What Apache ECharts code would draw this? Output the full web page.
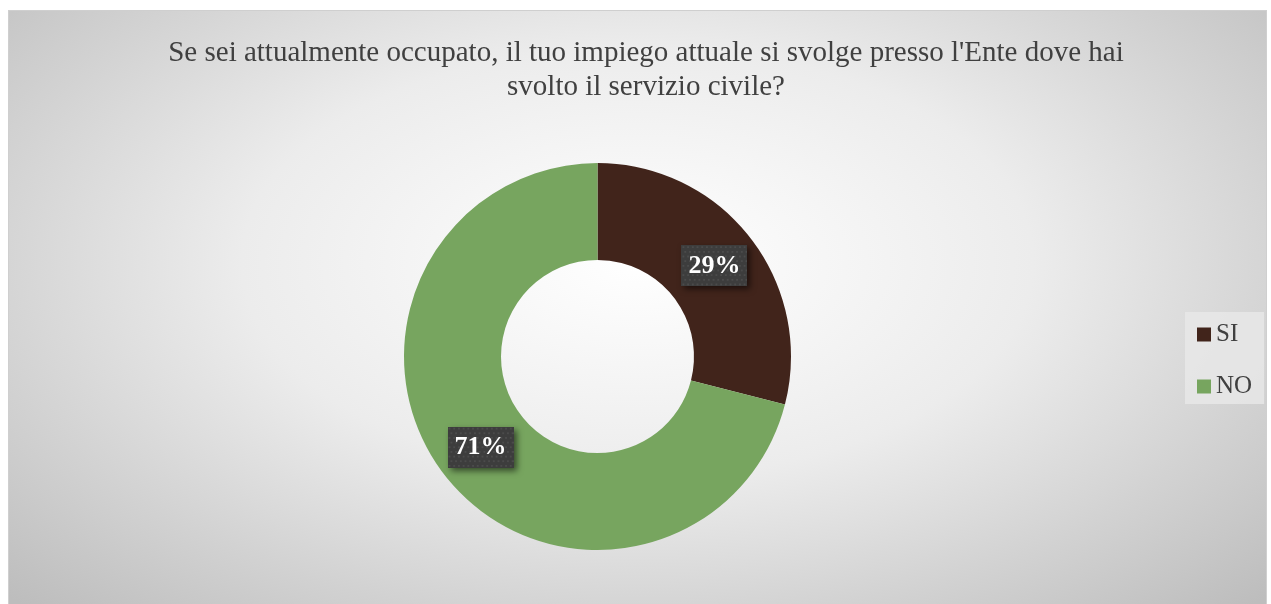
<!DOCTYPE html>
<html>
<head>
<meta charset="utf-8">
<script src="https://cdn.jsdelivr.net/npm/echarts@6/dist/echarts.min.js"></script>
<style>
  html, body { margin: 0; padding: 0; background: #ffffff; width: 1271px; height: 604px; overflow: hidden; }
  #frame {
    position: absolute; left: 8px; top: 10px; width: 1259px; height: 600px;
    border: 1px solid #cfcfcf; box-sizing: border-box;
    background: radial-gradient(ellipse 70% 80% at 50% 42%, #ffffff 0%, #ececec 45%, #d2d2d2 75%, #bdbdbd 100%);
  }
  #chart { position: absolute; left: 0; top: 0; width: 1259px; height: 600px; }
</style>
</head>
<body>
<div id="frame"><div id="chart"></div></div>
<script>
// Survey answers (percent)
const titleText = "Se sei attualmente occupato, il tuo impiego attuale si svolge presso l'Ente dove hai\nsvolto il servizio civile?";
const categories = ["SI", "NO"];
const values = [29, 71];
const colors = ["#41241b", "#77a55f"];

// Dotted dark texture for the data label boxes
function dottedTexture(w, h) {
  const c = document.createElement("canvas");
  c.width = w; c.height = h;
  const g = c.getContext("2d");
  g.fillStyle = "#3d3d3d";
  g.fillRect(0, 0, w, h);
  g.fillStyle = "#4b4b4b";
  for (let y = 1; y < h; y += 5) {
    for (let x = (Math.floor(y / 5) % 2) * 2 + 1; x < w; x += 5) {
      g.fillRect(x, y, 2, 2);
    }
  }
  return c;
}
const tex = dottedTexture(70, 44);

const chart = echarts.init(document.getElementById("chart"), null, { renderer: "canvas" });
chart.setOption({
  animation: false,
  backgroundColor: "transparent",
  title: {
    text: titleText,
    left: 632,
    top: 20,
    textAlign: "center",
    textStyle: {
      fontFamily: "Liberation Serif",
      fontSize: 29,
      fontWeight: "normal",
      color: "#404040",
      lineHeight: 34
    }
  },
  legend: {
    orient: "vertical",
    left: 1176,
    top: 301,
    padding: [10, 12, 5, 12],
    backgroundColor: "rgba(232,232,232,0.85)",
    itemWidth: 14,
    itemHeight: 14,
    itemGap: 27,
    icon: "rect",
    data: categories,
    textStyle: {
      fontFamily: "Liberation Serif",
      fontSize: 25,
      lineHeight: 25,
      color: "#404040"
    }
  },
  series: [{
    type: "pie",
    center: [588.5, 345.5],
    radius: [96.5, 193.5],
    startAngle: 90,
    clockwise: true,
    avoidLabelOverlap: false,
    itemStyle: { borderWidth: 0 },
    label: {
      show: true,
      position: "inside",
      formatter: "{d}%",
      fontFamily: "Liberation Serif",
      fontWeight: "bold",
      fontSize: 26,
      color: "#ffffff",
      padding: [8, 7, 7, 7],
      backgroundColor: { image: tex },
      shadowColor: "rgba(0,0,0,0.55)",
      shadowBlur: 6,
      shadowOffsetX: 3,
      shadowOffsetY: 3
    },
    labelLine: { show: false },
    emphasis: { disabled: true },
    data: categories.map((name, i) => ({
      name: name,
      value: values[i],
      itemStyle: { color: colors[i] }
    }))
  }]
});
</script>
</body>
</html>
